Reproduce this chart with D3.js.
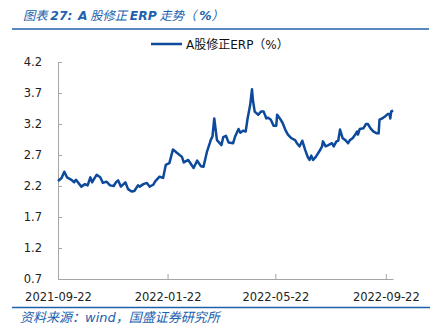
<!DOCTYPE html>
<html>
<head>
<meta charset="utf-8">
<script src="https://cdn.jsdelivr.net/npm/d3@7"></script>
<style>
  html, body { margin: 0; padding: 0; background: #fff; }
  svg { display: block; }
</style>
</head>
<body>
<svg id="chart" width="433" height="335"></svg>
<script>
// A股修正 ERP 走势（%）
const titleParts = [
  { t: "图表 ", latin: false },
  { t: "27:", latin: true },
  { t: "  ", latin: false },
  { t: "A", latin: true },
  { t: " 股修正 ", latin: false },
  { t: "ERP", latin: true },
  { t: " 走势（ ", latin: false },
  { t: "%", latin: true },
  { t: "）", latin: false }
];
const seriesName = "A股修正ERP（%）";
const sourceText = "资料来源：wind，国盛证券研究所";

const dates = [
  "2021-09-22","2021-09-26","2021-09-29","2021-10-02","2021-10-07","2021-10-10","2021-10-12","2021-10-18",
  "2021-10-22","2021-10-25","2021-10-28","2021-10-30","2021-11-01","2021-11-04","2021-11-08","2021-11-11",
  "2021-11-15","2021-11-19","2021-11-23","2021-11-26","2021-11-28","2021-12-01","2021-12-06","2021-12-09",
  "2021-12-13","2021-12-16","2021-12-20","2021-12-22","2021-12-26","2021-12-30","2022-01-02","2022-01-06",
  "2022-01-08","2022-01-13","2022-01-17","2022-01-20","2022-01-24","2022-01-28","2022-02-01","2022-02-07",
  "2022-02-09","2022-02-14","2022-02-20","2022-02-24","2022-02-28","2022-03-03","2022-03-07","2022-03-10",
  "2022-03-11","2022-03-13","2022-03-15","2022-03-18","2022-03-23","2022-03-25","2022-03-28","2022-03-31",
  "2022-04-05","2022-04-07","2022-04-11","2022-04-13","2022-04-16","2022-04-19","2022-04-21","2022-04-24",
  "2022-04-26","2022-04-27","2022-04-29","2022-05-03","2022-05-06","2022-05-09","2022-05-12","2022-05-14",
  "2022-05-17","2022-05-20","2022-05-23","2022-05-24","2022-05-27","2022-05-30","2022-06-02","2022-06-05",
  "2022-06-09","2022-06-13","2022-06-15","2022-06-18","2022-06-21","2022-06-24","2022-06-27","2022-06-29",
  "2022-07-01","2022-07-03","2022-07-06","2022-07-10","2022-07-13","2022-07-14","2022-07-17","2022-07-20",
  "2022-07-24","2022-07-26","2022-07-29","2022-07-31","2022-08-02","2022-08-05","2022-08-08","2022-08-11",
  "2022-08-13","2022-08-16","2022-08-19","2022-08-21","2022-08-22","2022-08-24","2022-08-28","2022-08-31",
  "2022-09-02","2022-09-05","2022-09-08","2022-09-12","2022-09-14","2022-09-15","2022-09-18","2022-09-21",
  "2022-09-24","2022-09-26","2022-09-27","2022-09-28","2022-09-30"
];

const erp = [
  2.28,2.33,2.43,2.34,2.30,2.26,2.30,2.19,
  2.23,2.21,2.34,2.26,2.31,2.38,2.34,2.25,
  2.27,2.21,2.20,2.27,2.29,2.19,2.26,2.15,
  2.11,2.12,2.21,2.19,2.23,2.25,2.19,2.22,
  2.27,2.35,2.33,2.54,2.57,2.79,2.74,2.67,
  2.58,2.62,2.49,2.61,2.52,2.51,2.76,2.89,
  2.94,3.00,3.29,2.94,2.86,2.99,3.01,2.90,
  2.89,2.99,3.12,3.06,3.09,3.08,3.28,3.51,
  3.76,3.59,3.40,3.35,3.40,3.40,3.29,3.30,
  3.27,3.17,3.17,3.35,3.29,3.22,3.11,3.03,
  2.97,2.94,2.89,2.84,2.93,2.79,2.67,2.62,
  2.69,2.62,2.67,2.76,2.84,2.92,2.84,2.86,
  2.89,2.84,2.92,2.93,3.11,2.97,2.94,2.89,
  2.94,2.97,3.03,3.08,3.03,3.12,3.13,3.20,
  3.20,3.13,3.08,3.05,3.05,3.27,3.29,3.32,
  3.36,3.36,3.29,3.40,3.42
];

const xTickLabels = ["2021-09-22","2022-01-22","2022-05-22","2022-09-22"];
const yTicks = [0.7, 1.2, 1.7, 2.2, 2.7, 3.2, 3.7, 4.2];
const xDomain = ["2021-09-22","2022-09-30"];

const parse = d3.timeParse("%Y-%m-%d");
const data = dates.map((d, i) => ({ date: parse(d), value: erp[i] }));

const svg = d3.select("#chart");
const blue = "#0d4a9b";
const accent = "#2160ad";
const axisGrey = "#a6a6a6";
const mixed = "'DejaVu Sans', 'Noto Sans CJK SC', sans-serif";
const cn = "'Noto Sans CJK SC', sans-serif";
const num = "'DejaVu Sans', Verdana, sans-serif";

const plot = { left: 58, right: 393, top: 62, bottom: 279 };

const x = d3.scaleTime()
  .domain(xDomain.map(parse))
  .range([plot.left, plot.right]);

const y = d3.scaleLinear()
  .domain([d3.min(yTicks), d3.max(yTicks)])
  .range([plot.bottom, plot.top]);

// Title and rule beneath it
const title = svg.append("text")
  .attr("x", 23).attr("y", 20)
  .attr("font-size", 12.3)
  .attr("font-style", "italic")
  .attr("fill", accent)
  .attr("xml:space", "preserve")
  .style("white-space", "pre");
title.selectAll("tspan")
  .data(titleParts)
  .join("tspan")
  .attr("font-family", d => d.latin ? num : cn)
  .attr("font-weight", d => d.latin ? "bold" : "normal")
  .text(d => d.t);

svg.append("line")
  .attr("x1", 12).attr("x2", 429)
  .attr("y1", 29).attr("y2", 29)
  .attr("stroke", accent).attr("stroke-width", 1.6);

// Legend
const legend = svg.append("g").attr("transform", "translate(151,44)");
legend.append("line")
  .attr("x1", 0).attr("x2", 31)
  .attr("stroke", blue).attr("stroke-width", 2.5);
legend.append("text")
  .attr("x", 35).attr("y", 4.5)
  .attr("font-family", mixed).attr("font-size", 12)
  .attr("fill", "#111")
  .text(seriesName);

// Y axis
const yAxis = d3.axisRight(y)
  .tickValues(yTicks)
  .tickSize(4)
  .tickFormat(d3.format(".1f"));
const gy = svg.append("g")
  .attr("transform", `translate(${plot.left},0)`)
  .call(yAxis);
gy.select(".domain").attr("stroke", axisGrey);
gy.selectAll(".tick line").attr("stroke", axisGrey);
gy.selectAll(".tick text")
  .attr("x", -16).attr("text-anchor", "end")
  .attr("font-family", num).attr("font-size", 11.5)
  .attr("fill", "#222");

// X axis
const xAxis = d3.axisTop(x)
  .tickValues(xTickLabels.map(parse))
  .tickSize(5)
  .tickSizeOuter(0)
  .tickFormat(d3.timeFormat("%Y-%m-%d"));
const gx = svg.append("g")
  .attr("transform", `translate(0,${plot.bottom})`)
  .call(xAxis);
gx.select(".domain").attr("stroke", axisGrey);
gx.selectAll(".tick line").attr("stroke", axisGrey);
gx.selectAll(".tick text")
  .attr("y", 22).attr("dy", 0)
  .attr("font-family", num).attr("font-size", 11.5)
  .attr("fill", "#222");
gx.selectAll(".tick").filter((d, i) => i === 0).select("line").remove();

// Series line
svg.append("path")
  .datum(data)
  .attr("fill", "none")
  .attr("stroke", blue)
  .attr("stroke-width", 2.5)
  .attr("stroke-linejoin", "round")
  .attr("d", d3.line().x(d => x(d.date)).y(d => y(d.value)));

// Source rule and note
svg.append("line")
  .attr("x1", 12).attr("x2", 430)
  .attr("y1", 307.5).attr("y2", 307.5)
  .attr("stroke", accent).attr("stroke-width", 1.6);

svg.append("text")
  .attr("x", 20).attr("y", 322)
  .attr("font-family", mixed).attr("font-size", 13)
  .attr("font-style", "italic")
  .attr("fill", accent)
  .text(sourceText);
</script>
</body>
</html>
